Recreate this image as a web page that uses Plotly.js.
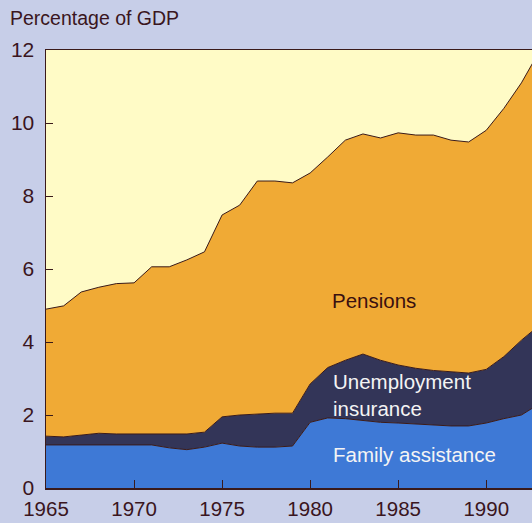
<!DOCTYPE html>
<html>
<head>
<meta charset="utf-8">
<script src="https://cdn.plot.ly/plotly-3.0.1.min.js"></script>
<style>html,body{margin:0;padding:0;background:#c7cee8;}#chart{width:532px;height:523px;}</style>
</head>
<body>
<div id="chart"></div>
<script>
const years = [1965,1966,1967,1968,1969,1970,1971,1972,1973,1974,1975,1976,1977,1978,1979,1980,1981,1982,1983,1984,1985,1986,1987,1988,1989,1990,1991,1992,1993];
const familyAssistance = [1.18,1.18,1.18,1.18,1.18,1.18,1.18,1.10,1.05,1.12,1.23,1.15,1.12,1.12,1.15,1.80,1.92,1.90,1.85,1.80,1.78,1.75,1.72,1.70,1.70,1.78,1.90,2.00,2.30];
const unemploymentInsurance = [0.24,0.22,0.27,0.32,0.30,0.30,0.32,0.38,0.43,0.41,0.72,0.85,0.91,0.93,0.90,1.05,1.38,1.60,1.82,1.70,1.59,1.53,1.50,1.48,1.45,1.47,1.70,2.05,2.15];
const pensions = [3.48,3.59,3.92,4.00,4.12,4.14,4.56,4.58,4.77,4.94,5.53,5.75,6.38,6.36,6.31,5.78,5.77,6.03,6.03,6.09,6.36,6.39,6.45,6.35,6.33,6.55,6.80,7.05,7.50];
const xTicks = [1965,1970,1975,1980,1985,1990];
const yTicks = [0,2,4,6,8,10,12];

const lineStyle = {color:'#3a1a1a', width:1};
const traces = [
  {x:years, y:familyAssistance, name:'Family assistance', type:'scatter', mode:'lines', stackgroup:'one', line:lineStyle, fillcolor:'#3e79d6'},
  {x:years, y:unemploymentInsurance, name:'Unemployment insurance', type:'scatter', mode:'lines', stackgroup:'one', line:lineStyle, fillcolor:'#333558'},
  {x:years, y:pensions, name:'Pensions', type:'scatter', mode:'lines', stackgroup:'one', line:lineStyle, fillcolor:'#f0aa35'}
];
const fontFam = 'Liberation Sans, Arial, sans-serif';
const layout = {
  width:532, height:523,
  margin:{l:46, r:0, t:50, b:35},
  paper_bgcolor:'#c7cee8',
  plot_bgcolor:'#fffbc6',
  showlegend:false,
  font:{family:fontFam, color:'#3a1520', size:20},
  title:{text:'Percentage of GDP', xref:'container', yref:'container', x:10/532, xanchor:'left', y:1-18/523, yanchor:'middle', font:{family:fontFam, size:19.5, color:'#3a1520'}},
  xaxis:{range:[1965,1992.6], tickvals:xTicks, ticks:'inside', ticklen:8, tickcolor:'#3a1a1a', showline:true, linecolor:'#3a1a1a', linewidth:1.5, mirror:true, showgrid:false, zeroline:false, tickfont:{size:20.5, color:'#3a1520'}, ticklabelstandoff:2},
  yaxis:{range:[0,12], tickvals:yTicks, ticks:'inside', ticklen:7, tickcolor:'#3a1a1a', showline:true, linecolor:'#3a1a1a', linewidth:1.5, showgrid:false, zeroline:false, tickfont:{size:21, color:'#3a1520'}, ticklabelstandoff:6},
  annotations:[
    {x:1983.6, y:5.15, xref:'x', yref:'y', text:'Pensions', showarrow:false, font:{size:20.5, color:'#3a1010'}, xanchor:'center', yanchor:'middle'},
    {x:1981.2, y:2.55, xref:'x', yref:'y', text:'Unemployment<br>insurance', align:'left', showarrow:false, font:{size:20.5, color:'#f4f4f4'}, xanchor:'left', yanchor:'middle'},
    {x:1981.2, y:0.93, xref:'x', yref:'y', text:'Family assistance', showarrow:false, font:{size:20.5, color:'#f4f4f4'}, xanchor:'left', yanchor:'middle'}
  ]
};
Plotly.newPlot('chart', traces, layout, {displayModeBar:false, staticPlot:true});
</script>
</body>
</html>
